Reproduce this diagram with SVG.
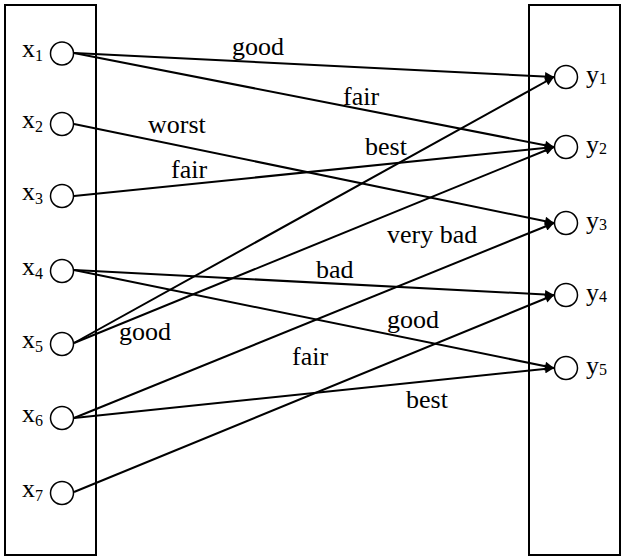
<svg xmlns="http://www.w3.org/2000/svg" width="621" height="557" viewBox="0 0 621 557">
<defs>
<style>
.box{fill:none;stroke:#000;stroke-width:2}
.nd{fill:#fff;stroke:#000;stroke-width:1.5}
.e{stroke:#000;stroke-width:2;fill:none;marker-end:url(#ah)}
</style>
<marker id="ah" viewBox="0 0 10 10" refX="10" refY="5" markerWidth="5" markerHeight="4.5" markerUnits="strokeWidth" orient="auto">
<path d="M0,0 L10,5 L0,10 z" fill="#000"/>
</marker>
</defs>
<rect class="box" x="5" y="5" width="91" height="550"/>
<rect class="box" x="529" y="5" width="91" height="550"/>
<g id="connectors">
<line class="e" x1="74" y1="53" x2="554" y2="77"/>
<line class="e" x1="74" y1="53" x2="554" y2="147"/>
<line class="e" x1="74" y1="124" x2="554" y2="223"/>
<line class="e" x1="74" y1="196" x2="554" y2="147"/>
<line class="e" x1="74" y1="270" x2="554" y2="295"/>
<line class="e" x1="74" y1="270" x2="554" y2="368"/>
<line class="e" x1="74" y1="343" x2="554" y2="77"/>
<line class="e" x1="74" y1="343" x2="554" y2="147"/>
<line class="e" x1="74" y1="418" x2="554" y2="223"/>
<line class="e" x1="74" y1="418" x2="554" y2="368"/>
<line class="e" x1="74" y1="492" x2="554" y2="295"/>
</g>
<g font-family="'Liberation Serif', 'Times New Roman', 'DejaVu Serif', serif" font-size="26" fill="#000">
<g id="x1"><circle class="nd" cx="62" cy="53.5" r="11.5"/><text x="22" y="57">x<tspan font-size="16" dy="4">1</tspan></text></g>
<g id="x2"><circle class="nd" cx="62" cy="124" r="11.5"/><text x="22" y="128">x<tspan font-size="16" dy="4">2</tspan></text></g>
<g id="x3"><circle class="nd" cx="62" cy="196" r="11.5"/><text x="22" y="200">x<tspan font-size="16" dy="4">3</tspan></text></g>
<g id="x4"><circle class="nd" cx="62" cy="271" r="11.5"/><text x="22" y="275">x<tspan font-size="16" dy="4">4</tspan></text></g>
<g id="x5"><circle class="nd" cx="62" cy="344" r="11.5"/><text x="22" y="348">x<tspan font-size="16" dy="4">5</tspan></text></g>
<g id="x6"><circle class="nd" cx="62" cy="418" r="11.5"/><text x="22" y="422">x<tspan font-size="16" dy="4">6</tspan></text></g>
<g id="x7"><circle class="nd" cx="62" cy="493" r="11.5"/><text x="22" y="497">x<tspan font-size="16" dy="4">7</tspan></text></g>
<g id="y1"><circle class="nd" cx="566" cy="77" r="11.5"/><text x="586" y="83">y<tspan font-size="16" dy="1">1</tspan></text></g>
<g id="y2"><circle class="nd" cx="566" cy="147" r="11.5"/><text x="586" y="153">y<tspan font-size="16" dy="1">2</tspan></text></g>
<g id="y3"><circle class="nd" cx="566" cy="223" r="11.5"/><text x="586" y="229">y<tspan font-size="16" dy="1">3</tspan></text></g>
<g id="y4"><circle class="nd" cx="566" cy="295" r="11.5"/><text x="586" y="301">y<tspan font-size="16" dy="1">4</tspan></text></g>
<g id="y5"><circle class="nd" cx="566" cy="368" r="11.5"/><text x="586" y="374">y<tspan font-size="16" dy="1">5</tspan></text></g>
<g id="labels">
<text x="232" y="55">good</text>
<text x="343" y="105">fair</text>
<text x="148" y="133">worst</text>
<text x="365" y="155">best</text>
<text x="171" y="178">fair</text>
<text x="387" y="243">very bad</text>
<text x="316" y="278">bad</text>
<text x="387" y="328">good</text>
<text x="119" y="340">good</text>
<text x="292" y="365">fair</text>
<text x="406" y="408">best</text>
</g>
</g>
</svg>
